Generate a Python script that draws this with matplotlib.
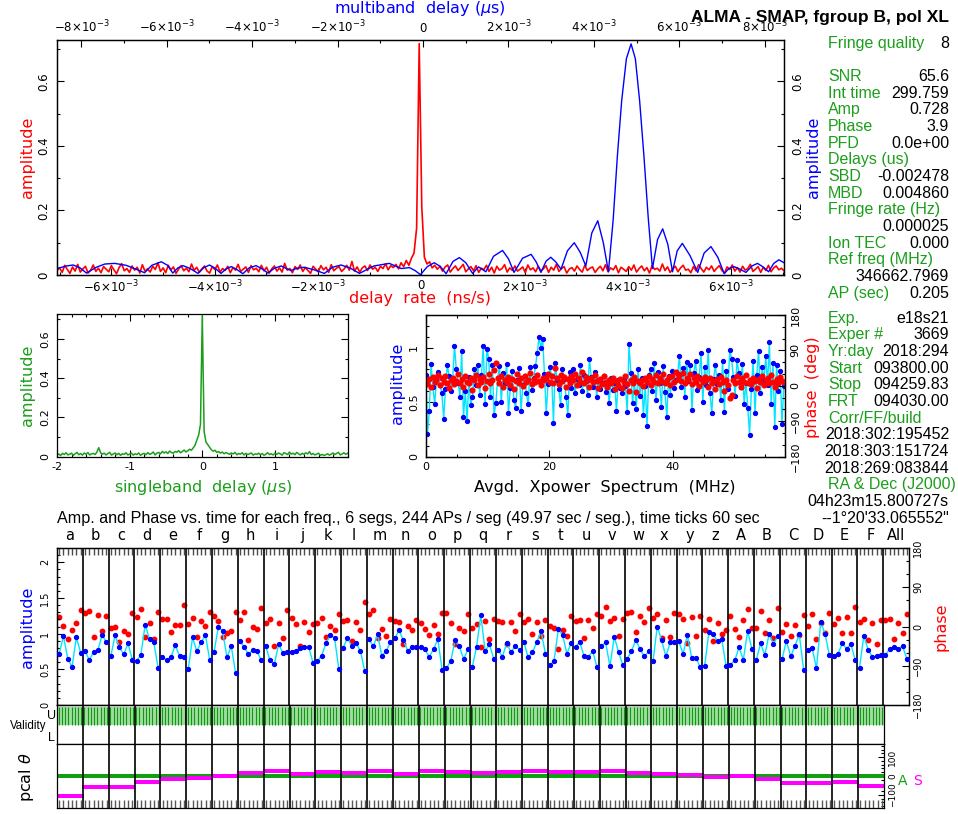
import numpy as np
import matplotlib
matplotlib.use("Agg")
import matplotlib.pyplot as plt
from matplotlib.patches import Rectangle
from matplotlib.ticker import FixedLocator, MultipleLocator, FuncFormatter

# ---- multiband delay function (x in 1e-3 us) ----
mbd_x = [-8.57, -8.35, -8.19, -8.03, -7.88, -7.65, -7.45, -7.22, -6.95, -6.72,
         -6.52, -6.35, -6.13, -5.98, -5.86, -5.74, -5.62, -5.45, -5.27, -5.14,
         -5.00, -4.86, -4.73, -4.61, -4.49, -4.36, -4.22, -4.07, -3.91, -3.77,
         -3.63, -3.48, -3.32, -3.20, -3.09, -2.95, -2.78, -2.55, -2.31, -2.12,
         -1.92, -1.70, -1.49, -1.15, -0.79, -0.51, -0.32, -0.19, -0.06, 0.10,
         0.26, 0.40, 0.54, 0.70, 0.85, 1.00, 1.16, 1.30, 1.47, 1.65,
         1.86, 2.00, 2.13, 2.33, 2.53, 2.65, 2.76, 2.88, 2.99, 3.11,
         3.23, 3.38, 3.54, 3.68, 3.81, 3.95, 4.09, 4.22, 4.34, 4.45,
         4.55, 4.65, 4.76, 4.87, 4.97, 5.07, 5.17, 5.27, 5.37, 5.49,
         5.61, 5.73, 5.84, 5.95, 6.07, 6.25, 6.43, 6.58, 6.74, 6.90,
         7.05, 7.16, 7.28, 7.42, 7.56, 7.70, 7.83, 7.96, 8.09, 8.21,
         8.33, 8.45]
mbd_amp = [0.020, 0.028, 0.031, 0.022, 0.006, 0.024, 0.034, 0.036, 0.030, 0.018,
           0.007, 0.030, 0.041, 0.030, 0.006, 0.022, 0.029, 0.020, 0.005, 0.022,
           0.031, 0.020, 0.005, 0.019, 0.026, 0.017, 0.004, 0.022, 0.029, 0.019,
           0.006, 0.021, 0.028, 0.020, 0.014, 0.021, 0.024, 0.016, 0.005, 0.024,
           0.031, 0.021, 0.005, 0.028, 0.036, 0.020, 0.023, 0.014, 0.001, 0.026,
           0.038, 0.027, 0.004, 0.042, 0.054, 0.038, 0.005, 0.025, 0.010, 0.058,
           0.076, 0.050, 0.008, 0.052, 0.064, 0.040, 0.008, 0.043, 0.055, 0.040,
           0.018, 0.075, 0.100, 0.070, 0.028, 0.130, 0.168, 0.100, 0.010, 0.170,
           0.370, 0.540, 0.670, 0.716, 0.670, 0.540, 0.370, 0.180, 0.020, 0.110,
           0.143, 0.095, 0.010, 0.075, 0.098, 0.060, 0.008, 0.068, 0.088, 0.055,
           0.004, 0.020, 0.026, 0.018, 0.008, 0.028, 0.036, 0.025, 0.010, 0.036,
           0.047, 0.038]

# ---- delay rate function, amplitude in units of 1e-3 ----
rate_lim = (-7.05, 7.02)
rate_amp_milli = [
    14, 22, 8, 30, 17, 5, 25, 12, 33, 9, 19, 27, 6, 15, 31, 11, 21, 7, 26, 18,
    10, 29, 16, 4, 23, 35, 13, 20, 8, 28, 15, 24, 6, 32, 12, 19, 9, 27, 17, 38,
    11, 22, 7, 30, 16, 25, 5, 18, 29, 13, 21, 10, 34, 14, 24, 8, 19, 28, 12, 6,
    26, 17, 31, 9, 20, 14, 27, 7, 23, 15, 33, 11, 18, 25, 8, 29, 16, 21, 10, 30,
    13, 24, 6, 19, 28, 12, 22, 9, 36, 15, 20, 7, 26, 17, 31, 11, 23, 14, 5, 27,
    18, 10, 29, 16, 24, 8, 32, 13, 21, 26, 11, 19, 30, 15, 42, 12, 25, 9, 22, 28,
    14, 31, 18, 24, 11, 27, 20, 35, 16, 29, 23, 33, 19, 38, 26, 45, 30, 52, 68, 145,
    717, 210, 55, 34, 41, 22, 30, 18, 27, 12, 25, 31, 9, 20, 28, 14, 23, 33, 10, 19,
    26, 13, 29, 8, 21, 17, 30, 11, 24, 6, 27, 15, 20, 32, 9, 22, 14, 28, 12, 18,
    25, 7, 31, 16, 22, 10, 27, 13, 19, 29, 8, 24, 15, 33, 11, 20, 26, 6, 18, 23,
    12, 28, 17, 9, 30, 14, 21, 25, 8, 19, 27, 13, 32, 10, 22, 16, 29, 7, 24, 18,
    11, 26, 15, 31, 9, 20, 28, 13, 23, 6, 29, 17, 21, 12, 34, 14, 25, 8, 19, 27,
    10, 22, 30, 15, 18, 7, 26, 13, 32, 20, 9, 24, 16, 28, 11, 21, 29, 14, 6, 25,
    17, 31, 12, 23, 9, 27, 15, 20, 33, 11, 18, 26, 8, 24, 14, 30, 10, 22, 28, 16,
    21, 13]

# ---- singleband delay function (-2 .. 2 us), amplitude in units of 1e-3 ----
sbd_amp_milli = [
    8, 14, 6, 17, 11, 20, 9, 13, 18, 7, 15, 22, 10, 16, 8, 19, 12, 21, 9, 14,
    17, 11, 24, 46, 20, 13, 18, 9, 16, 22, 8, 14, 19, 10, 17, 7, 15, 12, 20, 9,
    13, 18, 8, 15, 11, 19, 7, 14, 17, 10, 21, 12, 16, 24, 9, 18, 22, 14, 27, 19,
    25, 16, 29, 21, 18, 27, 23, 31, 20, 26, 34, 24, 30, 38, 33, 45, 58, 85, 110, 165,
    720,
    130, 75, 62, 48, 35, 28, 33, 22, 26, 18, 24, 15, 21, 17, 12, 19, 14, 22, 10, 16,
    13, 20, 9, 17, 11, 15, 19, 8, 14, 12, 18, 10, 16, 7, 13, 20, 11, 15, 9, 17,
    12, 19, 14, 8, 21, 16, 11, 24, 13, 18, 10, 22, 15, 9, 17, 12, 20, 14, 26, 11,
    16, 9, 13, 18, 7, 12, 6, 10, 15, 8, 13, 19, 11, 17, 22, 9, 14, 20, 12, 18]

# ---- averaged cross-power spectrum, 0 .. 58 MHz ----
xp_amp_pct = [
    75, 21, 42, 85, 64, 48, 72, 78, 66, 58, 35, 62, 84, 74, 60, 71, 102, 80, 68, 55,
    97, 36, 60, 33, 73, 47, 55, 80, 66, 84, 57, 75, 102, 48, 99, 90, 55, 84, 38, 49,
    72, 83, 50, 77, 68, 85, 40, 63, 79, 52, 45, 70, 81, 42, 66, 74, 58, 48, 82, 61,
    72, 83, 95, 110, 100, 108, 76, 40, 67, 82, 74, 31, 86, 70, 62, 47, 80, 71, 55, 38,
    78, 63, 80, 58, 71, 66, 84, 60, 75, 69, 57, 90, 73, 64, 78, 55, 70, 62, 68, 74,
    59, 66, 49, 72, 61, 68, 42, 70, 63, 58, 71, 65, 41, 103, 77, 49, 70, 44, 80, 56,
    72, 38, 65, 28, 75, 80, 60, 86, 52, 78, 68, 46, 83, 59, 36, 74, 57, 79, 63, 70,
    76, 92, 64, 81, 55, 87, 69, 84, 43, 77, 88, 61, 73, 95, 50, 82, 66, 98, 58, 40,
    71, 84, 67, 75, 52, 88, 41, 79, 62, 98, 90, 73, 56, 89, 77, 64, 85, 48, 68, 45,
    20, 62, 88, 40, 75, 97, 58, 82, 70, 92, 66, 105, 48, 86, 27, 84, 60, 79, 30, 65]
xp_phase = [
    12, 5, 18, -4, 22, 9, 15, 28, 2, 19, 11, 25, 7, -6, 16, 21, 4, 13, 30, 8,
    17, -2, 24, 10, 6, 20, -10, 14, 27, 3, 18, 9, 22, -5, 12, 31, 7, 16, 40, 59,
    20, 8, 26, -3, 15, 11, 23, 1, 17, -8, 13, 29, 6, 19, -1, 24, 10, 14, 33, 5,
    18, 9, 27, 12, 2, 21, 16, 20, 30, 11, 25, 7, 45, 19, 4, 28, 13, 22, -4, 17,
    8, 26, 14, 30, 3, 19, 11, 36, 6, 23, 15, -2, 20, 9, 27, 12, -6, 17, 5, 24,
    10, -3, 16, 7, 21, -8, 13, 2, 18, -5, 11, 25, 4, -12, 15, 8, 22, -15, 12, 6,
    14, -1, 19, 9, 24, 3, 17, 11, 28, 6, 20, 13, 31, 8, 16, 22, 2, 25, 10, 35,
    18, 27, 12, 32, 7, 21, 15, 29, 4, 19, 11, 26, 0, 17, 9, 23, 14, -4, 20, 8,
    13, -7, 18, 5, 22, 10, -12, 16, 2, -30, -22, 14, 7, 24, 11, -3, 19, 9, 28, 6,
    15, 4, 21, 12, -5, 17, 9, 25, 3, 14, 20, 8, 27, 11, -2, 18, 6, 23, 13, 10]

# ---- per-channel segment amplitudes / phases ----
chan_names = list("abcdefghijklmnopqrstuvwxyzABCDEF") + ["All"]
seg_amp = [
    [0.72, 0.965, 0.65, 0.53, 0.95, 0.73], [0.76, 0.63, 0.74, 0.77, 0.98, 0.876],
    [0.685, 0.974, 0.811, 0.709, 0.862, 0.634], [0.615, 0.704, 1.128, 0.918, 0.876, 0.517],
    [0.671, 0.625, 0.671, 0.839, 0.681, 0.667], [0.503, 0.946, 0.751, 0.881, 0.979, 0.625],
    [0.741, 1.10, 1.03, 0.667, 0.825, 0.448], [0.895, 0.811, 0.709, 0.774, 0.751, 0.625],
    [0.825, 0.625, 0.569, 0.849, 0.732, 0.741], [0.741, 0.760, 0.802, 0.806, 0.811, 0.592],
    [0.615, 0.69, 0.867, 0.979, 0.942, 0.499], [0.802, 0.942, 0.821, 0.867, 0.760, 0.48],
    [0.923, 0.821, 0.988, 0.685, 0.760, 0.876], [0.932, 1.053, 0.904, 0.760, 0.811, 0.806],
    [0.806, 0.779, 0.676, 0.779, 0.923, 0.49], [0.517, 0.615, 0.904, 0.825, 0.643, 0.779],
    [0.527, 0.816, 1.258, 0.755, 0.849, 0.643], [0.774, 0.676, 0.862, 0.741, 0.825, 0.774],
    [0.881, 0.667, 0.741, 0.881, 1.035, 0.72], [0.555, 0.615, 1.058, 0.979, 0.72, 0.867],
    [0.816, 0.881, 0.685, 0.676, 0.755, 0.527], [0.83, 0.876, 0.541, 0.956, 0.746, 0.555],
    [0.648, 0.751, 0.909, 0.783, 0.681, 0.751], [0.611, 1.100, 0.909, 0.681, 0.876, 0.881],
    [0.89, 0.718, 0.979, 0.657, 0.657, 0.527], [0.545, 1.021, 0.993, 0.89, 0.918, 0.545],
    [0.564, 0.625, 0.806, 0.634, 1.035, 0.783], [0.629, 0.862, 0.699, 0.998, 0.853, 0.965],
    [0.639, 0.9, 0.681, 0.825, 0.993, 0.494], [0.769, 0.797, 0.517, 1.166, 0.993, 0.695],
    [0.685, 0.72, 0.862, 0.788, 0.853, 0.629], [0.522, 0.97, 0.774, 0.671, 0.685, 0.695],
    [0.695, 0.788, 0.806, 0.788, 0.821, 0.648]]
seg_phase = [
    [22.6, 1.9, -28.7, -8.8, 7.3, 37.8], [31, 36.3, -24.8, 25.6, -11.1, 24.1],
    [-2.7, -1.1, -36.3, -9.6, -17.2, 31.7], [22.6, 40.9, -24.8, 8.0, -28.7, 33.3],
    [18.0, 16.4, -13.4, 3.4, 3.4, 49.3], [5.0, 18.7, -24.8, 11.9, 1.9, 32.5],
    [24.1, 13.4, -23.3, -14.1, -10.3, 33.3], [14.9, 34.0, -31.0, -1.9, -6.5, 43.2],
    [8.8, 16.4, -44.7, 8.8, -27.1, 38.6], [18.7, 5.7, -44.0, 11.1, -12.6, 6.5],
    [8.0, 19.5, -24.8, 0.4, -8.8, 27.9], [11.9, 14.9, -32.5, 9.6, -7.3, 55.4],
    [28.7, 37.1, -25.6, -5.0, -21.8, 17.2], [13.4, 9.6, -40.1, 0.4, -8.8, 14.1],
    [8.8, -5.0, -20.3, 3.4, -17.2, 30.2], [30.2, 7.3, -40.1, -4.2, -11.1, 28.7],
    [-3.4, 6.5, -46.3, 13.4, -27.9, 16.4], [13.4, 10.3, -40.1, 9.6, -11.1, 29.4],
    [9.6, 18.0, -18.0, 9.6, -21.8, 14.1], [1.9, -4.2, -52.4, -8.8, -21.8, 24.1],
    [11.9, 14.9, -27.1, 14.1, -2.7, 28.7], [24.1, 45.5, 13.4, 18.7, -22.6, 16.4],
    [31.0, 34.0, -13.4, 24.1, 9.6, 43.2], [20.3, 28.7, -25.6, 14.1, -24.8, 31.7],
    [29.4, 18.0, -38.6, 22.6, -21.0, 23.3], [-7.3, 18.0, -34.0, 8.0, -18.0, -8.8],
    [24.1, -5.0, -24.1, 14.9, 39.4, -2.7], [-2.7, 35.5, -14.9, 14.1, -27.1, 43.2],
    [-11.9, 6.5, -21.8, 3.4, -19.5, 27.1], [1.9, 28.7, -27.9, 8.8, -14.1, 31.7],
    [6.5, 20.3, -15.7, 21.0, -15.7, 45.5], [11.1, 16.4, -31.7, 7.3, -40.9, 14.1],
    [14.1, 17.2, -29.4, 7.3, -14.9, 28.7]]

# phase cal per channel (deg): reference station A and remote station S
pcal_a = [0] * 32
pcal_s = [-107, -61, -56, -32, -14, -10, -2, 14, 25, 9, 21, 18, 25, 9, 25, 21,
          14, 21, 28, 19, 21, 25, 16, 9, 5, -5, 2, -16, -38, -37, -32, -54]

info_top = [("Fringe quality", "8"), ("", ""), ("SNR", "65.6"),
            ("Int time", "299.759"), ("Amp", "0.728"), ("Phase", "3.9"),
            ("PFD", "0.0e+00"), ("Delays (us)", ""), ("SBD", "-0.002478"),
            ("MBD", "0.004860"), ("Fringe rate (Hz)", ""), ("", "0.000025"),
            ("Ion TEC", "0.000"), ("Ref freq (MHz)", ""), ("", "346662.7969"),
            ("AP (sec)", "0.205")]
info_bot = [("Exp.", "e18s21"), ("Exper #", "3669"), ("Yr:day", "2018:294"),
            ("Start", "093800.00"), ("Stop", "094259.83"), ("FRT", "094030.00"),
            ("Corr/FF/build", ""), ("", "2018:302:195452"), ("", "2018:303:151724"),
            ("", "2018:269:083844"), ("RA & Dec (J2000)", ""),
            ("", "04h23m15.800727s"), ("", "--1\u00b020'33.065552\"")]

RED, BLUE, GREEN, CYAN, MAG = "#ff0000", "#0000ff", "#1c9e1c", "#00e5ff", "#ff00ff"
plt.rcParams['font.family'] = ['DejaVu Sans']
plt.rcParams['axes.linewidth'] = 0.9

W, H = 958, 814
fig = plt.figure(figsize=(W / 100, H / 100), dpi=100)


def box(left, top, right, bottom):
    return fig.add_axes([left / W, 1 - bottom / H, (right - left) / W, (bottom - top) / H])


def label(x, y, s, **kw):
    fig.text(x / W, 1 - y / H, s, **kw)


def ticks_in(ax, size):
    ax.tick_params(which='both', direction='in', labelsize=size, width=0.8)
    ax.tick_params(which='major', length=5)
    ax.tick_params(which='minor', length=2.5)


def rotate_y(ax):
    for t in ax.get_yticklabels():
        t.set_va('center')


def pow_fmt(v, pos):
    n = int(round(v))
    return '0' if n == 0 else r'$%d{\times}10^{-3}$' % n


plain = FuncFormatter(lambda v, pos: '%g' % round(v, 6))

# ---------------- delay rate / multiband delay ----------------
ax1 = box(57, 40, 784, 275)
rate_x = np.linspace(rate_lim[0], rate_lim[1], len(rate_amp_milli))
ax1.plot(rate_x, np.array(rate_amp_milli) / 1000, color=RED, lw=1.2)
ax1.set_xlim(*rate_lim)
ax1.set_ylim(0, 0.728)
ax1t = ax1.twiny()
ax1t.plot(mbd_x, mbd_amp, color=BLUE, lw=1)
ax1t.set_xlim(-8.57, 8.45)
for a in (ax1, ax1t):
    ticks_in(a, 8.5)
ax1.xaxis.set_major_locator(FixedLocator([-6, -4, -2, 0, 2, 4, 6]))
ax1.xaxis.set_minor_locator(MultipleLocator(1))
ax1.xaxis.set_major_formatter(FuncFormatter(pow_fmt))
ax1t.xaxis.set_major_locator(FixedLocator([-8, -6, -4, -2, 0, 2, 4, 6, 8]))
ax1t.xaxis.set_minor_locator(MultipleLocator(1))
ax1t.xaxis.set_major_formatter(FuncFormatter(pow_fmt))
ax1.yaxis.set_major_locator(FixedLocator([0, 0.2, 0.4, 0.6]))
ax1.yaxis.set_minor_locator(MultipleLocator(0.1))
ax1.yaxis.set_major_formatter(plain)
ax1.tick_params(axis='x', which='both', bottom=True, top=False, pad=3)
ax1t.tick_params(axis='x', which='both', top=True, bottom=False,
                 labeltop=True, labelbottom=False, pad=3.5)
ax1.tick_params(axis='y', which='both', left=True, right=True,
                labelleft=True, labelright=True, labelrotation=90, pad=5)
rotate_y(ax1)

label(420, 9, r'multiband  delay ($\mu$s)', color=BLUE, fontsize=11.5, ha='center', va='center')
label(420, 298, 'delay  rate  (ns/s)', color=RED, fontsize=11.5, ha='center', va='center')
label(28, 157, 'amplitude', color=RED, fontsize=11.5, rotation=90, ha='center', va='center')
label(813, 157, 'amplitude', color=BLUE, fontsize=11.5, rotation=90, ha='center', va='center')

# ---------------- singleband delay ----------------
ax2 = box(57, 314, 348.3, 456.7)
sbd_x = np.linspace(-2, 2, len(sbd_amp_milli))
ax2.plot(sbd_x, np.array(sbd_amp_milli) / 1000, color=GREEN, lw=1.1)
ax2.set_xlim(-2, 2.01)
ax2.set_ylim(0, 0.728)
ticks_in(ax2, 8)
ax2.xaxis.set_major_locator(FixedLocator([-2, -1, 0, 1]))
ax2.xaxis.set_minor_locator(MultipleLocator(0.2))
ax2.xaxis.set_major_formatter(plain)
ax2.yaxis.set_major_locator(FixedLocator([0, 0.2, 0.4, 0.6]))
ax2.yaxis.set_minor_locator(MultipleLocator(0.1))
ax2.yaxis.set_major_formatter(plain)
ax2.tick_params(which='both', top=True, right=True, pad=4)
ax2.tick_params(axis='y', labelrotation=90, pad=5)
rotate_y(ax2)
label(203, 487, r'singleband  delay ($\mu$s)', color=GREEN, fontsize=11.5, ha='center', va='center')
label(28, 385, 'amplitude', color=GREEN, fontsize=11.5, rotation=90, ha='center', va='center')

# ---------------- cross-power spectrum ----------------
ax3 = box(425.7, 315, 785, 456.7)
xp_x = np.linspace(0, 58, len(xp_amp_pct))
ax3.plot(xp_x, np.array(xp_amp_pct) / 100, color=CYAN, lw=1, zorder=2)
ax3.plot(xp_x, np.array(xp_amp_pct) / 100, 'o', color=BLUE, ms=2.8, zorder=3)
ax3.set_xlim(0, 58.2)
ax3.set_ylim(0, 1.3)
ax3p = ax3.twinx()
ax3p.plot(xp_x, xp_phase, 'o', color=RED, ms=3.4)
ax3p.set_ylim(-180, 180)
for a in (ax3, ax3p):
    ticks_in(a, 8)
ax3.xaxis.set_major_locator(MultipleLocator(20))
ax3.xaxis.set_minor_locator(MultipleLocator(5))
ax3.yaxis.set_major_locator(MultipleLocator(0.5))
ax3.yaxis.set_minor_locator(MultipleLocator(0.1))
ax3.yaxis.set_major_formatter(plain)
ax3.tick_params(which='both', top=True, pad=4)
ax3.tick_params(axis='y', labelrotation=90, pad=5)
ax3p.yaxis.set_major_locator(MultipleLocator(90))
ax3p.yaxis.set_minor_locator(MultipleLocator(30))
ax3p.tick_params(axis='y', labelrotation=90, pad=4)
rotate_y(ax3)
rotate_y(ax3p)
label(605, 487, 'Avgd.  Xpower  Spectrum  (MHz)', color='black', fontsize=11.5, ha='center', va='center')
label(397, 383, 'amplitude', color=BLUE, fontsize=11.5, rotation=90, ha='center', va='center')
label(812, 387, 'phase  (deg)', color=RED, fontsize=11.5, rotation=90, ha='center', va='center')

# ---------------- fringe summary text ----------------
txt = dict(family=['Liberation Sans', 'DejaVu Sans'], fontsize=11.5)
label(949, 21.7, 'ALMA - SMAP, fgroup B, pol XL', ha='right', va='baseline',
      fontsize=12.5, fontweight='bold', family=['Liberation Sans', 'DejaVu Sans'])
for i, (name, val) in enumerate(info_top):
    yb = 41.7 + 16.67 * i + 6
    if name:
        label(828, yb, name, color=GREEN, ha='left', va='baseline', **txt)
    if val:
        label(949, yb, val, color='black', ha='right', va='baseline', **txt)
for i, (name, val) in enumerate(info_bot):
    yb = 316.7 + 16.67 * i + 6
    if name:
        label(828, yb, name, color=GREEN, ha='left', va='baseline', **txt)
    if val:
        label(949, yb, val, color='black', ha='right', va='baseline', **txt)

# ---------------- amplitude & phase per channel ----------------
nch = len(chan_names)
seg_pos = (np.arange(6) + 0.5) / 6
ax4 = box(57, 548, 909, 705)
ax4p = ax4.twinx()
for k in range(nch):
    xs = k + seg_pos
    ax4.plot(xs, seg_amp[k], color=CYAN, lw=1, zorder=3)
    ax4.plot(xs, seg_amp[k], 'o', color=BLUE, ms=2.8, zorder=4)
    ax4p.plot(xs, seg_phase[k], 'o', color=RED, ms=3.2)
ax4.set_zorder(ax4p.get_zorder() + 1)
ax4.patch.set_visible(False)
ax4.set_xlim(0, nch)
ax4.set_ylim(0, 2.2)
ax4p.set_ylim(-180, 180)
for k in range(1, nch):
    ax4.axvline(k, color='black', lw=1.2, zorder=2)
ax4.vlines(np.concatenate([k + seg_pos for k in range(nch)]), 1 - 0.045, 1,
           transform=ax4.get_xaxis_transform(), color='0.3', lw=1)
for k, name in enumerate(chan_names):
    ax4.text(k + 0.5, 1.051, name, transform=ax4.get_xaxis_transform(),
             ha='center', va='baseline', fontsize=10.5)
for a in (ax4, ax4p):
    ticks_in(a, 7)
ax4.set_xticks([])
ax4.yaxis.set_major_locator(MultipleLocator(0.5))
ax4.yaxis.set_minor_locator(MultipleLocator(0.1))
ax4.yaxis.set_major_formatter(plain)
ax4.tick_params(axis='y', labelrotation=90, pad=5)
ax4p.yaxis.set_major_locator(MultipleLocator(90))
ax4p.yaxis.set_minor_locator(MultipleLocator(30))
ax4p.tick_params(axis='y', labelrotation=90, pad=3)
rotate_y(ax4)
rotate_y(ax4p)
label(57, 523.3, 'Amp. and Phase vs. time for each freq., 6 segs, 244 APs / seg '
      '(49.97 sec / seg.), time ticks 60 sec', ha='left', va='baseline',
      fontsize=11.6, family=['Liberation Sans', 'DejaVu Sans'])
label(28, 627, 'amplitude', color=BLUE, fontsize=11.5, rotation=90, ha='center', va='center')
label(941, 627, 'phase', color=RED, fontsize=11.5, rotation=90, ha='center', va='center')

# ---------------- validity flags ----------------
ax5 = box(57, 705, 884, 744)
ax5.set_xlim(0, 32)
ax5.set_ylim(0, 2)
flag_pos = (np.arange(8) + 0.5) / 8
for k in range(32):
    ax5.add_patch(Rectangle((k, 0.97), 1, 0.93, color='#a3dba3', lw=0))
    ax5.vlines(k + flag_pos, 0.97, 1.9, color='#109a10', lw=0.8)
for k in range(1, 32):
    ax5.axvline(k, color='black', lw=1.2)
ax5.set_xticks([])
ax5.set_yticks([])
label(28.5, 729, 'Validity', fontsize=8.3, ha='center', va='baseline',
      family=['Liberation Sans', 'DejaVu Sans'])
label(51.7, 719, 'U', fontsize=9, ha='center', va='baseline', family=['Liberation Sans', 'DejaVu Sans'])
label(51.7, 741, 'L', fontsize=9, ha='center', va='baseline', family=['Liberation Sans', 'DejaVu Sans'])

# ---------------- phase cal ----------------
ax6 = box(57, 744, 884, 808)
ax6.set_xlim(0, 32)
ax6.set_ylim(-170, 170)
pc_pos = (np.arange(10) + 0.5) / 10
for k in range(32):
    ax6.plot(k + pc_pos, [pcal_a[k]] * 10, 's', color='#11a011', ms=2.6, mew=0)
    ax6.plot(k + pc_pos, [pcal_s[k]] * 10, 's', color=MAG, ms=2.6, mew=0)
for k in range(1, 32):
    ax6.axvline(k, color='black', lw=1.2)
ax6.vlines(np.concatenate([k + seg_pos for k in range(32)]), 0, 0.12,
           transform=ax6.get_xaxis_transform(), color='0.35', lw=1)
ticks_in(ax6, 6.5)
ax6.set_xticks([])
ax6.yaxis.tick_right()
ax6.yaxis.set_major_locator(FixedLocator([-100, 0, 100]))
ax6.yaxis.set_minor_locator(MultipleLocator(20))
ax6.tick_params(axis='y', which='major', length=4)
ax6.tick_params(axis='y', which='minor', length=2)
ax6.tick_params(axis='y', labelrotation=90, pad=3)
rotate_y(ax6)
label(903, 785, 'A', color='#11a011', fontsize=10, ha='center', va='baseline')
label(918, 785, 'S', color=MAG, fontsize=10, ha='center', va='baseline')
label(26, 777, r'pcal $\theta$', fontsize=11.5, rotation=90, ha='center', va='center')

fig.savefig('out.png', dpi=100)
